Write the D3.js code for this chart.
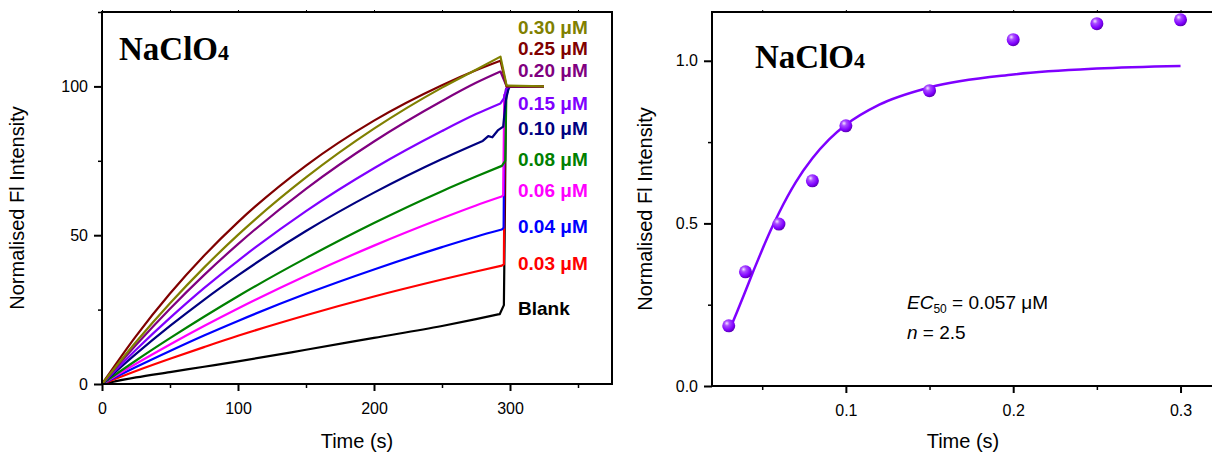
<!DOCTYPE html>
<html><head><meta charset="utf-8">
<script src="https://cdn.jsdelivr.net/npm/d3@7"></script>
<style>
body{margin:0;background:#fff}
svg{display:block}
</style>
</head><body>
<svg id="c" width="1212" height="453" font-family="Liberation Sans, Arial, sans-serif"></svg>
<script>
// ---------- Left panel data: time (s) vs normalised Fl intensity ----------
const seriesLabels = ["Blank","0.03 μM","0.04 μM","0.06 μM","0.08 μM","0.10 μM","0.15 μM","0.20 μM","0.25 μM","0.30 μM"];
const seriesColors = ["#000000","#ff0000","#0000ff","#ff00ff","#008000","#000080","#8000ff","#800080","#800000","#808000"];
// smooth ramp part
const blank = [[0,0],[25,2.2],[50,4.0],[75,5.8],[100,7.6],[150,11.5],[200,15.5],[250,19.5],[275,21.8],[292.5,23.5]];
const c003 = [[0,0],[25,4.4],[50,8.5],[75,12.4],[100,16.2],[150,23.1],[200,29.4],[250,35.1],[275,37.8],[294,39.8]];
const c004 = [[0,0],[25,5.7],[50,11.1],[75,16.3],[100,21.2],[150,30.3],[200,38.5],[250,46.0],[275,49.5],[294,51.9]];
const c006 = [[0,0],[25,6.8],[50,13.3],[75,19.5],[100,25.4],[150,36.4],[200,46.5],[250,55.7],[275,60.0],[294,63.0]];
const c008 = [[0,0],[25,7.9],[50,15.4],[75,22.6],[100,29.5],[150,42.3],[200,54.1],[250,64.8],[275,69.7],[294,73.3]];
const c010 = [[0,0],[25,10.1],[50,19.5],[75,28.3],[100,36.5],[150,51.4],[200,64.3],[250,75.6],[280,81.7]];
const c015 = [[0,0],[25,11.5],[50,22.2],[75,32.2],[100,41.4],[150,58.1],[200,72.5],[250,85.0],[275,90.7],[293,94.3]];
const c020 = [[0,0],[25,13.1],[50,25.3],[75,36.6],[100,47.0],[150,65.6],[200,81.5],[250,95.1],[275,101.2],[293,105]];
const c025 = [[0,0],[25,16.1],[50,30.4],[75,43.1],[100,54.4],[150,73.4],[200,88.5],[250,100.4],[275,105.4],[293,108.6]];
const c030 = [[0,0],[25,14.1],[50,27.1],[75,39.1],[100,50.1],[150,69.4],[200,85.8],[250,99.6],[275,105.6],[293,110]];
// jump / plateau part (continues from last ramp point)
const tBlank = [[292.5,23.5],[295.5,26.5],[296.3,60],[297,99],[300,100],[325,100]];
const t003 = [[294,39.8],[295.5,40.2],[296.3,97],[299,100],[325,100]];
const t004 = [[294,51.9],[295.3,52.5],[296,97],[299,100],[325,100]];
const t006 = [[294,63.0],[295,63.5],[295.8,97],[299,100],[325,100]];
const t008 = [[294,73.3],[296.5,75],[297.3,97],[299.5,100],[325,100]];
const t010 = [[280,81.7],[284,83.3],[287,82.9],[291,85.2],[295,86.5],[296.8,95],[299,99.5],[301,100],[325,100]];
const t015 = [[293,94.3],[295.5,96],[297.5,99.5],[300,100],[325,100]];
const t020 = [[293,105],[297.5,100],[325,100]];
const t025 = [[293,108.6],[297.5,100],[325,100]];
const t030 = [[293,110],[297.5,100.3],[325,100]];
const leftSeries = [blank,c003,c004,c006,c008,c010,c015,c020,c025,c030];
const leftTails = [tBlank,t003,t004,t006,t008,t010,t015,t020,t025,t030];
const leftXTicks = [0,100,200,300];
const leftXMinor = [50,150,250,350];
const leftYTicks = [0,50,100];
const leftYMinor = [25,75,125];

// ---------- Right panel data: concentration vs normalised response ----------
const conc = [0.03,0.04,0.06,0.08,0.10,0.15,0.20,0.25,0.30];
const response = [0.185,0.351,0.498,0.631,0.800,0.908,1.065,1.114,1.126];
const fitX = [0.03,0.035,0.04,0.045,0.05,0.055,0.06,0.07,0.08,0.09,0.10,0.12,0.15,0.20,0.25,0.30];
const fitY = [0.167,0.228,0.292,0.357,0.419,0.478,0.532,0.626,0.700,0.758,0.803,0.865,0.918,0.958,0.976,0.984];
const rightXTicks = [0.1,0.2,0.3];
const rightXMinor = [0.05,0.15,0.25];
const rightYTicks = [0.0,0.5,1.0];
const rightYMinor = [0.25,0.75];

const svg = d3.select("#c");
const fontTick = 16, fontTitle = 20;

function drawAxes(g, x, y, W, H, xt, xm, yt, ym, fmtX, fmtY){
  g.append("g").attr("transform",`translate(0,${H})`)
    .call(d3.axisBottom(x).tickValues(xt).tickSize(7).tickPadding(12).tickFormat(fmtX).tickSizeOuter(0))
    .call(s=>{s.select(".domain").remove();s.selectAll("line").attr("stroke-width",2);s.selectAll("text").attr("font-size",fontTick).attr("font-family",null);});
  g.append("g").attr("transform",`translate(0,${H})`)
    .call(d3.axisBottom(x).tickValues(xm).tickSize(4).tickFormat("").tickSizeOuter(0))
    .call(s=>{s.select(".domain").remove();s.selectAll("line").attr("stroke-width",1.5);});
  g.append("g")
    .call(d3.axisTop(x).tickValues(xt.concat(xm)).tickSize(2).tickFormat("").tickSizeOuter(0))
    .call(s=>{s.select(".domain").remove();s.selectAll("line").attr("stroke-width",1);});
  g.append("g")
    .call(d3.axisLeft(y).tickValues(yt).tickSize(8).tickPadding(6).tickFormat(fmtY).tickSizeOuter(0))
    .call(s=>{s.select(".domain").remove();s.selectAll("line").attr("stroke-width",2);s.selectAll("text").attr("font-size",fontTick).attr("font-family",null);});
  g.append("g")
    .call(d3.axisLeft(y).tickValues(ym).tickSize(4).tickFormat("").tickSizeOuter(0))
    .call(s=>{s.select(".domain").remove();s.selectAll("line").attr("stroke-width",1.5);});
  g.append("rect").attr("width",W).attr("height",H).attr("fill","none").attr("stroke","#000").attr("stroke-width",2);
}

function title(g, x, yb){
  const t = g.append("text").attr("x",x).attr("y",yb)
    .style("font-family","'Liberation Serif','Times New Roman',serif").attr("font-weight","bold").attr("font-size",33);
  t.append("tspan").text("NaClO");
  t.append("tspan").attr("font-size",22).text("4");
}

// ---------- Left panel ----------
{
  const L = 102, T = 12, W = 510, H = 372;
  const g = svg.append("g").attr("transform",`translate(${L},${T})`);
  const x = d3.scaleLinear().domain([0,375]).range([0,W]);
  const y = d3.scaleLinear().domain([0,125]).range([H,0]);
  const smooth = d3.line().x(d=>x(d[0])).y(d=>y(d[1])).curve(d3.curveMonotoneX);
  const straight = d3.line().x(d=>x(d[0])).y(d=>y(d[1]));
  g.append("clipPath").attr("id","clipL").append("rect").attr("width",W).attr("height",H);
  const lg = g.append("g").attr("clip-path","url(#clipL)");
  leftSeries.forEach((s,i)=>{
    const d = smooth(s) + straight(leftTails[i]).replace(/^M/,"L");
    lg.append("path").attr("d",d).attr("fill","none").attr("stroke",seriesColors[i])
      .attr("stroke-width",2.2).attr("stroke-linejoin","round");
  });
  drawAxes(g,x,y,W,H,leftXTicks,leftXMinor,leftYTicks,leftYMinor,d3.format("d"),d3.format("d"));
  const labelBase = [315,270,233,197,165.5,135,110,77,55,33.5];
  seriesLabels.forEach((lab,i)=>{
    svg.append("text").attr("x",518).attr("y",labelBase[i]).attr("font-size",19).attr("font-weight","bold")
      .attr("fill",seriesColors[i]).text(lab);
  });
  title(g, 17, 48);
  svg.append("text").attr("x",L+W/2).attr("y",448).attr("text-anchor","middle").attr("font-size",fontTitle).text("Time (s)");
  svg.append("text").attr("transform",`translate(24,${T+H/2+10}) rotate(-90)`).attr("text-anchor","middle").attr("font-size",fontTitle).text("Normalised Fl Intensity");
}

// ---------- Right panel ----------
{
  const L = 712, T = 12, W = 502, H = 374;
  const g = svg.append("g").attr("transform",`translate(${L},${T})`);
  const x = d3.scaleLinear().domain([0.02,0.32]).range([0,W]);
  const y = d3.scaleLinear().domain([0,1.15]).range([H,0]);
  const defs = svg.append("defs");
  const grad = defs.append("radialGradient").attr("id","ball").attr("cx","40%").attr("cy","35%").attr("r","65%").attr("fx","35%").attr("fy","30%");
  grad.append("stop").attr("offset","0%").attr("stop-color","#f4e6ff");
  grad.append("stop").attr("offset","30%").attr("stop-color","#a94dff");
  grad.append("stop").attr("offset","75%").attr("stop-color","#8000ff");
  grad.append("stop").attr("offset","100%").attr("stop-color","#5a00b4");
  const line = d3.line().x((d,i)=>x(fitX[i])).y((d,i)=>y(fitY[i])).curve(d3.curveMonotoneX);
  g.append("path").attr("d",line(fitX)).attr("fill","none").attr("stroke","#7f00ff").attr("stroke-width",2.5);
  g.selectAll("circle.pt").data(conc).join("circle").attr("class","pt")
    .attr("cx",d=>x(d)).attr("cy",(d,i)=>y(response[i])).attr("r",6.5).attr("fill","url(#ball)");
  drawAxes(g,x,y,W,H,rightXTicks,rightXMinor,rightYTicks,rightYMinor,d3.format(".1f"),d3.format(".1f"));
  title(g, 43, 56);
  const a = svg.append("text").attr("x",907).attr("y",309).attr("font-size",19);
  a.append("tspan").attr("font-style","italic").text("EC");
  a.append("tspan").attr("font-size",12).attr("dy",4).text("50");
  a.append("tspan").attr("dy",-4).text(" = 0.057 μM");
  const b = svg.append("text").attr("x",907).attr("y",339).attr("font-size",19);
  b.append("tspan").attr("font-style","italic").text("n");
  b.append("tspan").text(" = 2.5");
  svg.append("text").attr("x",963).attr("y",448).attr("text-anchor","middle").attr("font-size",fontTitle).text("Time (s)");
  svg.append("text").attr("transform",`translate(652,${T+H/2+10}) rotate(-90)`).attr("text-anchor","middle").attr("font-size",fontTitle).text("Normalised Fl Intensity");
}
</script>
</body></html>
